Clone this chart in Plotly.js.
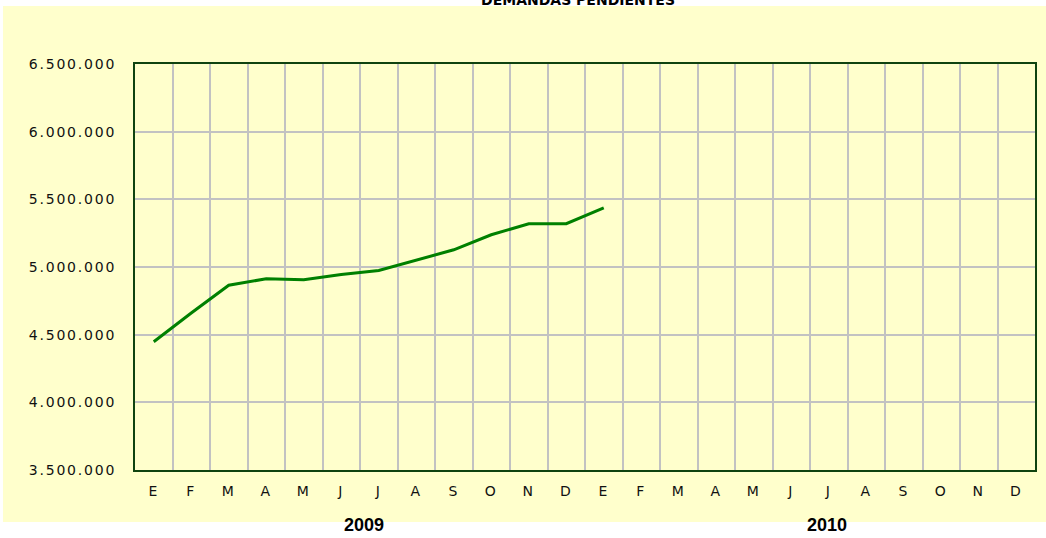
<!DOCTYPE html>
<html>
<head>
<meta charset="utf-8">
<script src="https://cdn.plot.ly/plotly-3.0.1.min.js"></script>
<style>
  html, body { margin: 0; padding: 0; background: #ffffff; }
  #chart { width: 1046px; height: 538px; }
  .xtick text, .ytick text { letter-spacing: 1.8px; }
</style>
</head>
<body>
<div id="chart"></div>
<script>
// ---- data ----
var monthLabels = ['E','F','M','A','M','J','J','A','S','O','N','D',
                   'E','F','M','A','M','J','J','A','S','O','N','D'];
var yearLabels = ['2009', '2010'];
var demandas = [4448000, 4660000, 4865000, 4913000, 4905000, 4944000,
                4974000, 5048000, 5127000, 5238000, 5320000, 5320000, 5436000];
var chartTitle = 'DEMANDAS PENDIENTES';

// ---- derived helpers ----
var xIdx = monthLabels.map(function (_, i) { return i; });
var boundaries = xIdx.slice(0, xIdx.length - 1).map(function (i) { return i + 0.5; });
var xData = demandas.map(function (_, i) { return i; });

var tickFont = { family: 'DejaVu Sans, Arial, sans-serif', size: 14, color: '#111111' };

var trace = {
  type: 'scatter',
  mode: 'lines',
  x: xData,
  y: demandas,
  line: { color: '#008000', width: 3 },
  hoverinfo: 'y'
};

var layout = {
  width: 1046,
  height: 538,
  margin: { l: 135, r: 11, t: 64, b: 68, pad: 0 },
  paper_bgcolor: '#ffffff',
  plot_bgcolor: '#FFFFCC',
  separators: ',.',
  showlegend: false,
  title: {
    text: '<b>' + chartTitle + '</b>',
    font: { family: 'DejaVu Sans, Arial, sans-serif', size: 14, color: '#000000' },
    xref: 'container', yref: 'container',
    x: 578 / 1046, xanchor: 'center',
    y: 1, yanchor: 'middle'
  },
  xaxis: {
    range: [-0.5, 23.5],
    tickmode: 'array',
    tickvals: xIdx,
    ticktext: monthLabels,
    showgrid: false,
    zeroline: false,
    showline: true,
    mirror: true,
    linecolor: '#0F430F',
    linewidth: 2,
    ticks: '',
    tickfont: tickFont,
    ticklabelstandoff: 7,
    fixedrange: true,
    minor: {
      tickmode: 'array',
      tickvals: boundaries,
      showgrid: true,
      gridcolor: '#C2C2C2',
      gridwidth: 2,
      ticks: ''
    }
  },
  yaxis: {
    range: [3500000, 6500000],
    tick0: 3500000,
    dtick: 500000,
    tickformat: ',d',
    showgrid: true,
    gridcolor: '#C2C2C2',
    gridwidth: 2,
    zeroline: false,
    showline: true,
    mirror: true,
    linecolor: '#0F430F',
    linewidth: 2,
    ticks: '',
    tickfont: tickFont,
    ticklabelstandoff: 14,
    fixedrange: true
  },
  shapes: [{
    type: 'rect', xref: 'paper', yref: 'paper',
    x0: -0.1467, x1: 1.0122, y0: -0.1281, y1: 1.1429,
    fillcolor: '#FFFFCC', line: { width: 0 }, layer: 'below'
  }],
  annotations: [
    { text: '<b>' + yearLabels[0] + '</b>', xref: 'paper', yref: 'paper',
      x: 0.254, y: -0.1355, xanchor: 'center', yanchor: 'middle', showarrow: false,
      font: { family: 'Arial, Liberation Sans, sans-serif', size: 18, color: '#000000' } },
    { text: '<b>' + yearLabels[1] + '</b>', xref: 'paper', yref: 'paper',
      x: 0.769, y: -0.1355, xanchor: 'center', yanchor: 'middle', showarrow: false,
      font: { family: 'Arial, Liberation Sans, sans-serif', size: 18, color: '#000000' } }
  ]
};

Plotly.newPlot('chart', [trace], layout, { displayModeBar: false, staticPlot: true });
</script>
</body>
</html>
